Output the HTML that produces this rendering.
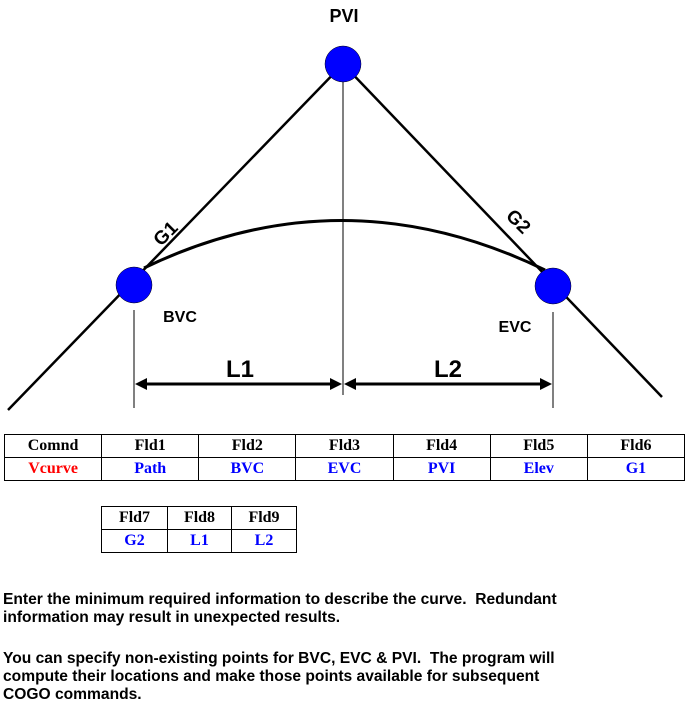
<!DOCTYPE html>
<html><head><meta charset="utf-8"><style>
body{margin:0;width:690px;height:712px;background:#fff;position:relative;overflow:hidden;font-family:"Liberation Sans",Arial,sans-serif}
svg{position:absolute;left:0;top:0}
table{position:absolute;border-collapse:collapse;table-layout:fixed;font-family:"Liberation Serif",serif;font-weight:bold;font-size:16px}
td{border:1px solid #000;text-align:center;height:22px;padding:0}
.b{color:#0000ff}.r{color:#ff0000}
.p{position:absolute;left:3px;font-weight:bold;font-size:15.6px;line-height:18px;color:#000;white-space:nowrap}
</style></head><body>
<svg width="690" height="430">
<g stroke="#000" fill="none">
<line x1="8" y1="410" x2="343" y2="64" stroke-width="2.5"/>
<line x1="343" y1="64" x2="662" y2="397" stroke-width="2.5"/>
<path d="M144,268 Q343,172 545,270" stroke-width="3"/>
<line x1="343" y1="82" x2="343" y2="395" stroke-width="1"/>
<line x1="134" y1="310" x2="134" y2="408" stroke-width="1"/>
<line x1="553" y1="312" x2="553" y2="408" stroke-width="1"/>
<line x1="140" y1="384" x2="337" y2="384" stroke-width="3"/>
<line x1="349" y1="384" x2="547" y2="384" stroke-width="3"/>
</g>
<g fill="#000">
<polygon points="135,384 147,378 147,390"/><polygon points="342,384 330,378 330,390"/>
<polygon points="344,384 356,378 356,390"/><polygon points="552,384 540,378 540,390"/>
</g>
<g fill="#0000ff" stroke="#000" stroke-width="0.5">
<circle cx="343" cy="64" r="18"/>
<circle cx="134" cy="285" r="18"/>
<circle cx="553" cy="286" r="18"/>
</g>
<g font-family="Liberation Sans, Arial, sans-serif" font-weight="bold" fill="#000">
<text x="344" y="22" font-size="18" text-anchor="middle">PVI</text>
<text x="180" y="322" font-size="16" text-anchor="middle">BVC</text>
<text x="515" y="332" font-size="16" text-anchor="middle">EVC</text>
<text x="240" y="377" font-size="24" text-anchor="middle">L1</text>
<text x="448" y="377" font-size="24" text-anchor="middle">L2</text>
<text x="0" y="0" font-size="19" text-anchor="middle" transform="translate(170,238) rotate(-45)">G1</text>
<text x="0" y="0" font-size="19" text-anchor="middle" transform="translate(514,226) rotate(45)">G2</text>
</g>
</svg>
<table style="left:4px;top:434px;width:681px">
<tr><td>Comnd</td><td>Fld1</td><td>Fld2</td><td>Fld3</td><td>Fld4</td><td>Fld5</td><td>Fld6</td></tr>
<tr><td class="r">Vcurve</td><td class="b">Path</td><td class="b">BVC</td><td class="b">EVC</td><td class="b">PVI</td><td class="b">Elev</td><td class="b">G1</td></tr>
</table>
<table style="left:101px;top:506px;width:195px">
<col style="width:66px"><col style="width:64px"><col style="width:65px">
<tr><td>Fld7</td><td>Fld8</td><td>Fld9</td></tr>
<tr><td class="b">G2</td><td class="b">L1</td><td class="b">L2</td></tr>
</table>
<div class="p" style="top:591px">Enter the minimum required information to describe the curve.&nbsp; Redundant<br>information may result in unexpected results.</div>
<div class="p" style="top:650px">You can specify non-existing points for BVC, EVC &amp; PVI.&nbsp; The program will<br>compute their locations and make those points available for subsequent<br>COGO commands.</div>
</body></html>
